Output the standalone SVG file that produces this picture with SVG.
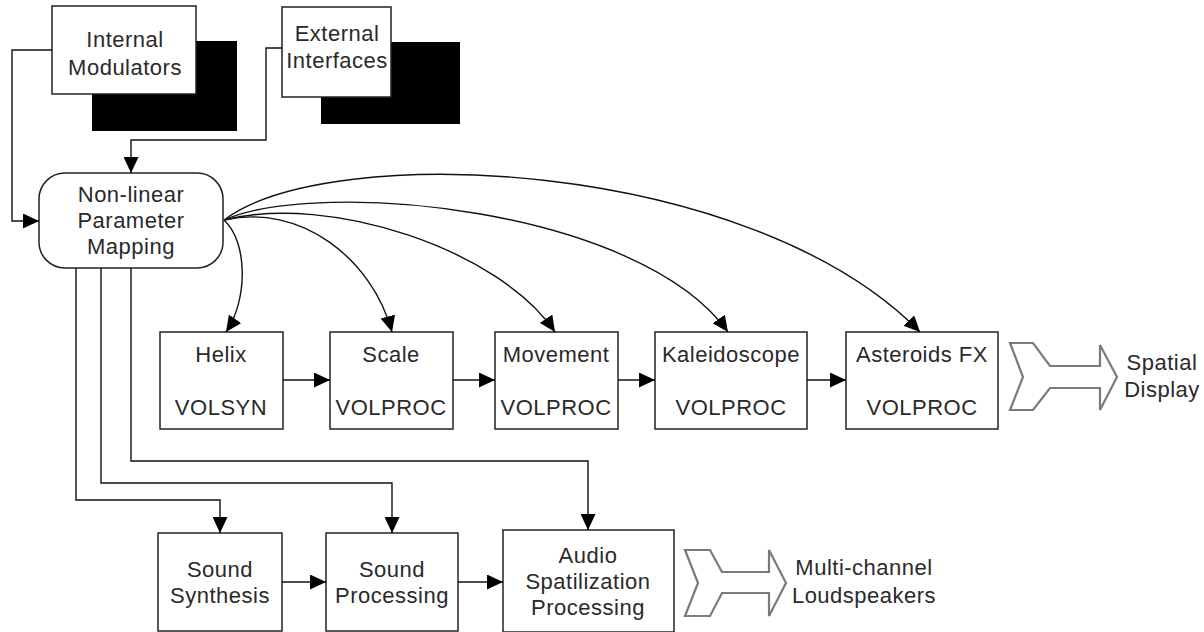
<svg xmlns="http://www.w3.org/2000/svg" width="1204" height="632" viewBox="0 0 1204 632">
  <style>
    .box { fill: #ffffff; stroke: #222222; stroke-width: 1.5; }
    .shadow { fill: #000000; stroke: none; }
    .lbl { font-family: "Liberation Sans", Arial, sans-serif; font-size: 22px; letter-spacing: 0.5px; fill: #2a2a2a; text-anchor: middle; }
    .wire { fill: none; stroke: #111111; stroke-width: 1.4; }
    .fat { fill: #ffffff; stroke: #7a7a7a; stroke-width: 2.2; stroke-linejoin: miter; }
  </style>
  <defs>
    <marker id="ah" markerUnits="userSpaceOnUse" markerWidth="17" markerHeight="15" refX="16" refY="7.5" orient="auto">
      <path d="M0,0 L16,7.5 L0,15 Z" fill="#000000"/>
    </marker>
  </defs>

  <rect width="1204" height="632" fill="#ffffff"/>

  <!-- source boxes with solid drop shadows -->
  <g id="internal-modulators">
    <rect class="shadow" x="92" y="41" width="145" height="90"/>
    <rect class="box" x="52" y="6" width="144" height="88"/>
    <text class="lbl" x="125" y="47">Internal</text>
    <text class="lbl" x="125" y="75">Modulators</text>
  </g>
  <g id="external-interfaces">
    <rect class="shadow" x="321" y="42" width="139" height="82"/>
    <rect class="box" x="282" y="7" width="109" height="90"/>
    <text class="lbl" x="337" y="41">External</text>
    <text class="lbl" x="337" y="68">Interfaces</text>
  </g>

  <!-- mapping hub -->
  <g id="parameter-mapping">
    <rect class="box" x="39" y="173" width="184" height="95" rx="26" ry="26"/>
    <text class="lbl" x="131" y="202">Non-linear</text>
    <text class="lbl" x="131" y="228">Parameter</text>
    <text class="lbl" x="131" y="254">Mapping</text>
  </g>

  <!-- volume processing chain -->
  <g id="helix">
    <rect class="box" x="160" y="332" width="123" height="97"/>
    <text class="lbl" x="221" y="362">Helix</text>
    <text class="lbl" x="221" y="415">VOLSYN</text>
  </g>
  <g id="scale">
    <rect class="box" x="330" y="332" width="123" height="97"/>
    <text class="lbl" x="391" y="362">Scale</text>
    <text class="lbl" x="391" y="415">VOLPROC</text>
  </g>
  <g id="movement">
    <rect class="box" x="495" y="332" width="123" height="97"/>
    <text class="lbl" x="556" y="362">Movement</text>
    <text class="lbl" x="556" y="415">VOLPROC</text>
  </g>
  <g id="kaleidoscope">
    <rect class="box" x="655" y="332" width="152" height="97"/>
    <text class="lbl" x="731" y="362">Kaleidoscope</text>
    <text class="lbl" x="731" y="415">VOLPROC</text>
  </g>
  <g id="asteroids-fx">
    <rect class="box" x="846" y="332" width="152" height="97"/>
    <text class="lbl" x="922" y="362">Asteroids FX</text>
    <text class="lbl" x="922" y="415">VOLPROC</text>
  </g>

  <!-- visual output -->
  <g id="spatial-display">
    <path class="fat" d="M1010,343 L1033,343 L1050,366 L1100,366 L1100,345 L1117,377 L1100,410 L1100,388 L1050,388 L1033,410 L1010,410 L1023,377 Z"/>
    <text class="lbl" x="1162" y="370">Spatial</text>
    <text class="lbl" x="1162" y="397">Display</text>
  </g>

  <!-- audio chain -->
  <g id="sound-synthesis">
    <rect class="box" x="158" y="533" width="124" height="98"/>
    <text class="lbl" x="220" y="577">Sound</text>
    <text class="lbl" x="220" y="603">Synthesis</text>
  </g>
  <g id="sound-processing">
    <rect class="box" x="326" y="533" width="132" height="98"/>
    <text class="lbl" x="392" y="577">Sound</text>
    <text class="lbl" x="392" y="603">Processing</text>
  </g>
  <g id="audio-spatialization">
    <rect class="box" x="503" y="530" width="171" height="102"/>
    <text class="lbl" x="588" y="563">Audio</text>
    <text class="lbl" x="588" y="589">Spatilization</text>
    <text class="lbl" x="588" y="615">Processing</text>
  </g>

  <!-- audio output -->
  <g id="loudspeakers">
    <path class="fat" d="M685,550 L710,550 L722,572 L769,572 L769,550 L786,583 L769,616 L769,593 L722,593 L710,616 L685,616 L698,583 Z"/>
    <text class="lbl" x="864" y="575">Multi-channel</text>
    <text class="lbl" x="864" y="603">Loudspeakers</text>
  </g>

  <!-- connectors -->
  <g id="connectors">
    <!-- inputs into the mapping hub -->
    <polyline class="wire" points="52,50 12,50 12,221 39,221" marker-end="url(#ah)"/>
    <polyline class="wire" points="282,48 266,48 266,140 131,140 131,173" marker-end="url(#ah)"/>

    <!-- hub fan-out to volume stages -->
    <path class="wire" d="M224,220 C248,242 248,300 226,332" marker-end="url(#ah)"/>
    <path class="wire" d="M224,220 C300,203 372,258 392,332" marker-end="url(#ah)"/>
    <path class="wire" d="M224,220 C330,193 500,250 555,332" marker-end="url(#ah)"/>
    <path class="wire" d="M224,220 C320,178 640,208 728,332" marker-end="url(#ah)"/>
    <path class="wire" d="M224,220 C330,140 750,158 920,332" marker-end="url(#ah)"/>

    <!-- volume chain -->
    <line class="wire" x1="283" y1="380" x2="330" y2="380" marker-end="url(#ah)"/>
    <line class="wire" x1="453" y1="380" x2="495" y2="380" marker-end="url(#ah)"/>
    <line class="wire" x1="618" y1="380" x2="655" y2="380" marker-end="url(#ah)"/>
    <line class="wire" x1="807" y1="380" x2="846" y2="380" marker-end="url(#ah)"/>

    <!-- hub drops to audio stages -->
    <polyline class="wire" points="76,268 76,500 220,500 220,533" marker-end="url(#ah)"/>
    <polyline class="wire" points="101,268 101,483 392,483 392,533" marker-end="url(#ah)"/>
    <polyline class="wire" points="131,268 131,461 588,461 588,530" marker-end="url(#ah)"/>

    <!-- audio chain -->
    <line class="wire" x1="282" y1="582" x2="326" y2="582" marker-end="url(#ah)"/>
    <line class="wire" x1="458" y1="582" x2="503" y2="582" marker-end="url(#ah)"/>
  </g>
</svg>
